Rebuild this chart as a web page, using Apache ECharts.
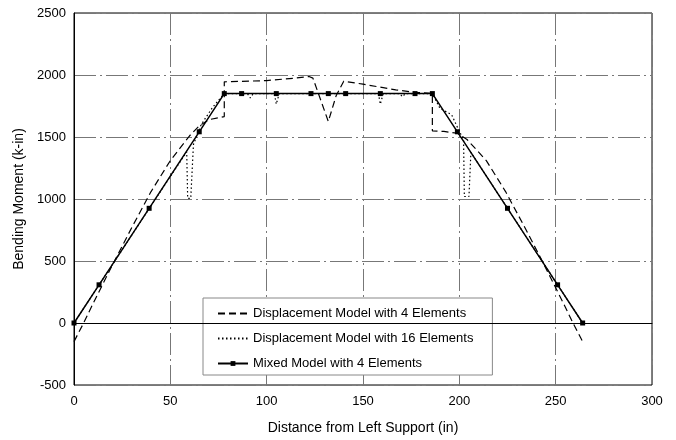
<!DOCTYPE html>
<html>
<head>
<meta charset="utf-8">
<script src="https://cdn.jsdelivr.net/npm/echarts@6/dist/echarts.min.js"></script>
<style>
  html, body { margin: 0; padding: 0; background: #fff; }
  #chart { width: 676px; height: 440px; }
</style>
</head>
<body>
<div id="chart"></div>
<script>
// Displacement model, 4 elements (dashed)
var dispX4 = [0, 5, 10, 20, 30, 40, 50, 60, 65, 70, 78, 78, 100, 115, 122, 124, 128, 132, 136, 140, 150, 167, 177, 186, 186, 192, 199, 204, 214, 224, 234, 244, 254, 259, 264];
var dispY4 = [-150, 0, 160, 470, 770, 1060, 1310, 1510, 1590, 1640, 1665, 1945, 1955, 1975, 1988, 1975, 1800, 1625, 1830, 1950, 1926, 1880, 1860, 1852, 1550, 1545, 1530, 1480, 1310, 1060, 770, 470, 160, 0, -150];

// Displacement model, 16 elements (dotted)
var dispX16 = [0, 16.5, 33, 49.5, 58.5, 59, 60.6, 62, 66, 72, 78, 90, 91.5, 93, 104, 105, 106.5, 132, 158, 159, 160.5, 169, 170.5, 172, 186, 190, 196, 200, 202.2, 202.6, 205, 206, 231, 247.5, 264];
var dispY16 = [0, 390, 780, 1170, 1380, 1005, 1005, 1440, 1600, 1740, 1850, 1850, 1815, 1850, 1850, 1765, 1850, 1850, 1850, 1765, 1850, 1850, 1825, 1850, 1850, 1730, 1680, 1545, 1480, 1020, 1020, 1376, 783, 391, 0];

// Mixed model, 4 elements (solid with markers)
var mixedX = [0, 13, 39, 65, 78, 87, 105, 123, 132, 141, 159, 177, 186, 199, 225, 251, 264];
var mixedY = [0, 308, 925, 1542, 1850, 1850, 1850, 1850, 1850, 1850, 1850, 1850, 1850, 1542, 925, 308, 0];

var seriesNames = ['Displacement Model with 4 Elements', 'Displacement Model with 16 Elements', 'Mixed Model with 4 Elements'];

function pairs(xs, ys) {
  return xs.map(function (x, i) { return [x, ys[i]]; });
}

var font = 'Liberation Sans, Arial, sans-serif';
var gridLine = { show: true, lineStyle: { color: '#777', width: 1, type: [22, 4, 2, 4] } };

var myChart = echarts.init(document.getElementById('chart'));
var option = {
  animation: false,
  backgroundColor: '#fff',
  textStyle: { fontFamily: font },
  grid: {
    left: 74, top: 13, width: 578, height: 375,
    show: true, borderColor: '#000', borderWidth: 1, backgroundColor: 'transparent'
  },
  legend: {
    data: [
      { name: seriesNames[0], itemStyle: { opacity: 0 } },
      { name: seriesNames[1], itemStyle: { opacity: 0 } },
      { name: seriesNames[2] }
    ],
    orient: 'vertical',
    left: 203,
    top: 298,
    backgroundColor: '#fff',
    borderColor: '#888',
    borderWidth: 1,
    borderRadius: 0,
    padding: [8, 19, 4, 14],
    itemWidth: 30,
    itemHeight: 6,
    itemGap: 10,
    textStyle: { fontSize: 13, color: '#000', fontFamily: font, lineHeight: 15 }
  },
  xAxis: {
    type: 'value',
    min: 0, max: 300, interval: 50,
    name: 'Distance from Left Support (in)',
    nameLocation: 'middle',
    nameGap: 36,
    nameTextStyle: { fontSize: 14, color: '#000', fontFamily: font },
    axisLine: { show: true, lineStyle: { color: '#000', width: 1 } },
    axisTick: { show: false },
    axisLabel: { fontSize: 13, color: '#000', margin: 10, fontFamily: font },
    splitLine: gridLine
  },
  yAxis: {
    type: 'value',
    min: -500, max: 2500, interval: 500,
    name: 'Bending Moment (k-in)',
    nameLocation: 'middle',
    nameGap: 45,
    nameTextStyle: { fontSize: 14, color: '#000', fontFamily: font },
    axisLine: { show: true, lineStyle: { color: '#000', width: 1 } },
    axisTick: { show: false },
    axisLabel: {
      fontSize: 13, color: '#000', margin: 8, fontFamily: font,
      formatter: function (v) { return String(v); }
    },
    splitLine: gridLine
  },
  series: [
    {
      name: seriesNames[0],
      type: 'line',
      data: pairs(dispX4, dispY4),
      showSymbol: false,
      symbol: 'none',
      itemStyle: { color: '#000' },
      lineStyle: { color: '#000', width: 1.2, type: [7, 4] },
      z: 3
    },
    {
      name: seriesNames[1],
      type: 'line',
      data: pairs(dispX16, dispY16),
      showSymbol: false,
      symbol: 'none',
      itemStyle: { color: '#000' },
      lineStyle: { color: '#000', width: 1.2, type: [1.5, 2.5] },
      z: 3
    },
    {
      name: seriesNames[2],
      type: 'line',
      data: pairs(mixedX, mixedY),
      symbol: 'rect',
      symbolSize: 5,
      itemStyle: { color: '#000' },
      lineStyle: { color: '#000', width: 1.5 },
      z: 4,
      markLine: {
        silent: true,
        symbol: 'none',
        label: { show: false },
        lineStyle: { color: '#000', width: 1, type: 'solid' },
        data: [{ yAxis: 0 }]
      }
    }
  ]
};
myChart.setOption(option);
</script>
</body>
</html>
